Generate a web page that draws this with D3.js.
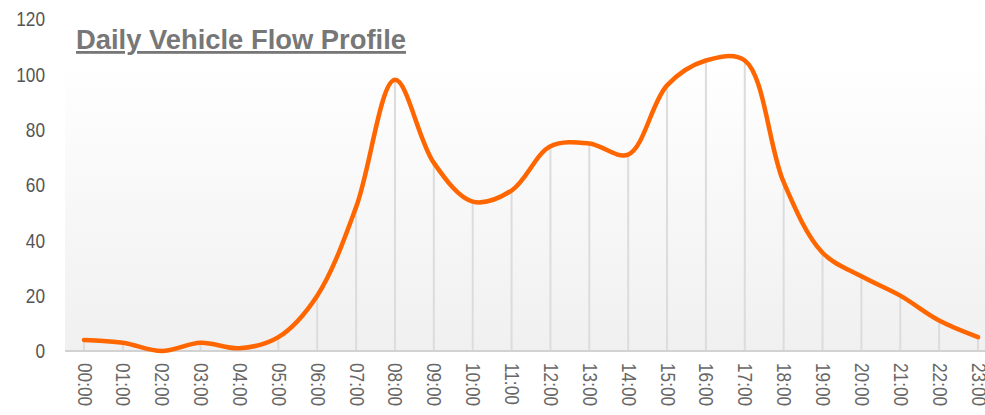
<!DOCTYPE html>
<html>
<head>
<meta charset="utf-8">
<script src="https://cdn.jsdelivr.net/npm/d3@7"></script>
<style>
  body { margin: 0; background: #fff; }
  #chart { width: 985px; height: 415px; }
</style>
</head>
<body>
<div id="chart"></div>
<script>
(function () {

  // hourly vehicle counts
  const hours = ['00:00','01:00','02:00','03:00','04:00','05:00','06:00','07:00','08:00','09:00','10:00','11:00',
    '12:00','13:00','14:00','15:00','16:00','17:00','18:00','19:00','20:00','21:00','22:00','23:00']
  const flow = [4, 3, 0, 3, 1, 5, 20, 52, 98, 68, 54, 58, 74, 75, 71, 96, 105, 105, 61, 35.5, 27, 20, 11, 5]
  const yTicks = [0, 20, 40, 60, 80, 100, 120]
  const title = 'Daily Vehicle Flow Profile'

  const width = 985
  const height = 415
  const plot = { left: 65, right: 985, top: 58, bottom: 351 }
  const sans = '"Liberation Sans", Arial, sans-serif'

  // no narrow font installed, so squeeze the regular one
  function squeeze (sel, k) {
    sel.each(function () {
      const w = this.getComputedTextLength()
      d3.select(this)
        .attr('textLength', w * k)
        .attr('lengthAdjust', 'spacingAndGlyphs')
    })
  }

  const svg = d3.select('#chart').append('svg')
      .attr('width', width)
      .attr('height', height)

  const xPositionScale = d3.scalePoint()
    .domain(hours)
    .range([84, 978])

  const yPositionScale = d3.scaleLinear()
    .domain([0, 120])
    .range([plot.bottom, 19])

  // soft grey gradient behind the plot
  const grad = svg.append('defs').append('linearGradient')
    .attr('id', 'bg')
    .attr('x1', 0).attr('y1', 0).attr('x2', 0).attr('y2', 1)
  grad.append('stop').attr('offset', '0%').attr('stop-color', '#ffffff')
  grad.append('stop').attr('offset', '100%').attr('stop-color', '#f0f0f0')

  svg.append('rect')
    .attr('x', plot.left)
    .attr('y', plot.top)
    .attr('width', plot.right - plot.left)
    .attr('height', plot.bottom - plot.top)
    .attr('fill', 'url(#bg)')

  const data = hours.map((h, i) => ({ hour: h, value: flow[i] }))

  // drop lines from each point to the axis
  svg.selectAll('.drop')
    .data(data)
    .join('line')
    .attr('class', 'drop')
    .attr('x1', d => xPositionScale(d.hour))
    .attr('x2', d => xPositionScale(d.hour))
    .attr('y1', d => yPositionScale(d.value))
    .attr('y2', yPositionScale(0))
    .attr('stroke', '#dcdcdc')
    .attr('stroke-width', 2)

  // y labels only, no axis line
  const yAxis = d3.axisLeft(yPositionScale)
    .tickValues(yTicks)
    .tickSize(0)
    .tickPadding(0)
  svg.append('g')
    .attr('class', 'axis y-axis')
    .attr('transform', 'translate(45,0)')
    .call(yAxis)
    .call(g => g.select('.domain').remove())
    .selectAll('text')
    .attr('fill', '#555')
    .style('font-family', sans)
    .style('font-size', '21px')
    .call(squeeze, 0.82)

  const xAxis = d3.axisBottom(xPositionScale)
    .tickSize(0)
  svg.append('g')
    .attr('class', 'axis x-axis')
    .attr('transform', 'translate(0,' + plot.bottom + ')')
    .call(xAxis)
    .call(g => g.select('.domain').remove())
    .selectAll('text')
    .attr('fill', '#666')
    .attr('y', 0)
    .attr('x', 12)
    .attr('dy', '0.35em')
    .attr('transform', 'rotate(90)')
    .attr('text-anchor', 'start')
    .style('font-family', sans)
    .style('font-size', '20px')
    .call(squeeze, 0.86)

  // baseline
  svg.append('line')
    .attr('x1', plot.left)
    .attr('x2', plot.right)
    .attr('y1', plot.bottom)
    .attr('y2', plot.bottom)
    .attr('stroke', '#d2d2d2')
    .attr('stroke-width', 2)

  const line = d3.line()
    .x(d => xPositionScale(d.hour))
    .y(d => yPositionScale(d.value))
    .curve(d3.curveCatmullRom.alpha(0.5))

  svg.append('path')
    .datum(data)
    .attr('d', line)
    .attr('fill', 'none')
    .attr('stroke', '#ff6600')
    .attr('stroke-width', 4.5)
    .attr('stroke-linecap', 'round')
    .attr('stroke-linejoin', 'round')

  svg.append('text')
    .attr('x', 76)
    .attr('y', 49)
    .attr('textLength', 330)
    .attr('lengthAdjust', 'spacingAndGlyphs')
    .attr('fill', '#777')
    .style('font-family', sans)
    .style('font-weight', 'bold')
    .style('font-size', '28px')
    .style('text-decoration', 'underline')
    .text(title)

})();
</script>
</body>
</html>
